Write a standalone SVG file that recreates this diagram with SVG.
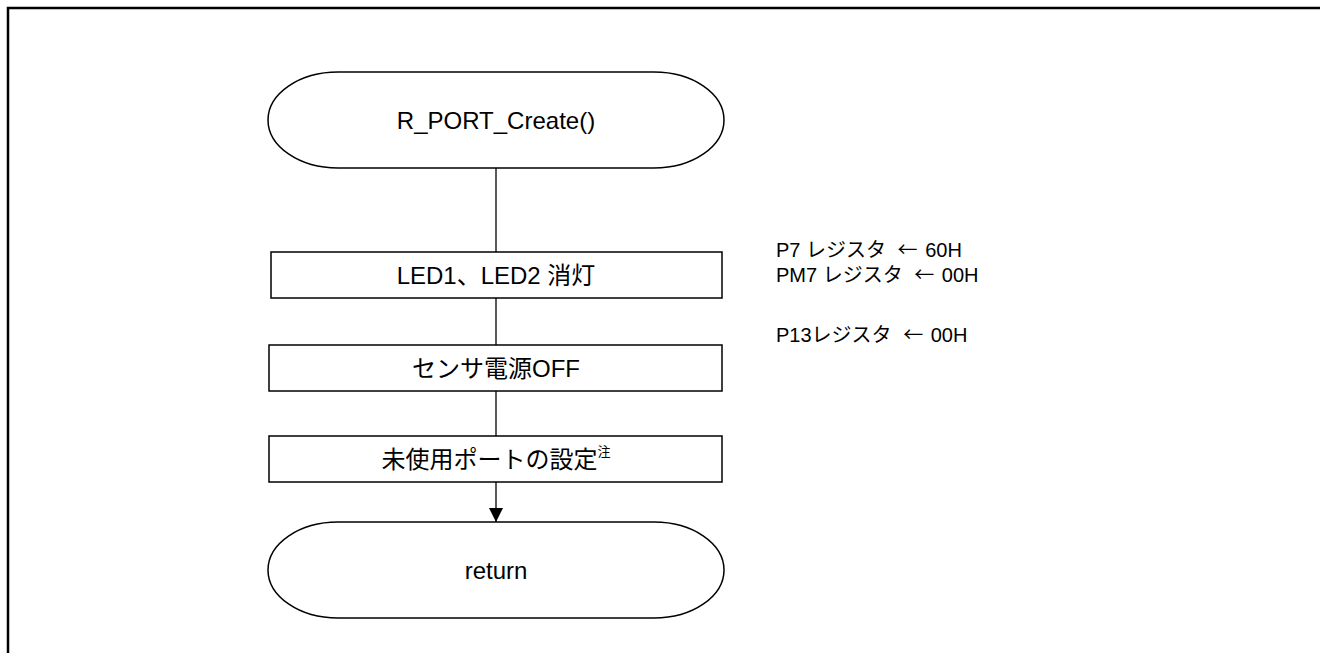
<svg xmlns="http://www.w3.org/2000/svg" width="1320" height="653" viewBox="0 0 1320 653">
<defs>
<style>
.frame{fill:none;stroke:#000;stroke-width:2.5}
.shape{fill:#fff;stroke:#000;stroke-width:1.5}
.line{fill:none;stroke:#000;stroke-width:1.3}
.t{font-family:"Liberation Sans","Noto Sans CJK JP",sans-serif;font-size:24px;fill:#000;text-anchor:middle;dominant-baseline:central}
.n{font-family:"Liberation Sans","Noto Sans CJK JP",sans-serif;font-size:20px;fill:#000}
.ar{font-family:"Noto Sans CJK JP",sans-serif}
.sup{font-size:13px}
</style>
<marker id="arr" markerWidth="14" markerHeight="14" refX="14" refY="7" orient="auto" markerUnits="userSpaceOnUse">
<path d="M0,0 L14,7 L0,14 z" fill="#000"/>
</marker>
</defs>
<rect width="1320" height="653" fill="#fff"/>
<rect class="frame" x="8" y="8" width="1330" height="660"/>
<g id="connectors">
<line class="line" x1="496" y1="168" x2="496" y2="252"/>
<line class="line" x1="496" y1="298" x2="496" y2="345"/>
<line class="line" x1="496" y1="391" x2="496" y2="436"/>
<line class="line" x1="496" y1="482" x2="496" y2="522" marker-end="url(#arr)"/>
</g>
<g id="start">
<rect class="shape" x="268" y="72" width="456" height="96" rx="70" ry="48"/>
<text class="t" x="496" y="120">R_PORT_Create()</text>
</g>
<g id="led_off">
<rect class="shape" x="271" y="252" width="451" height="46"/>
<text class="t" x="496" y="275">LED1、LED2 消灯</text>
</g>
<g id="sensor_off">
<rect class="shape" x="269" y="345" width="453" height="46"/>
<text class="t" x="496" y="368">センサ電源OFF</text>
</g>
<g id="unused_ports">
<rect class="shape" x="269" y="436" width="453" height="46"/>
<text class="t" x="496" y="459">未使用ポートの設定<tspan class="sup" dy="-8">注</tspan></text>
</g>
<g id="end">
<rect class="shape" x="268" y="522" width="456" height="96" rx="70" ry="48"/>
<text class="t" x="496" y="570">return</text>
</g>
<g id="notes">
<text class="n" x="776" y="257">P7 レジスタ <tspan class="ar" dx="6">←</tspan><tspan dx="2"> 60H</tspan></text>
<text class="n" x="776" y="282">PM7 レジスタ <tspan class="ar" dx="6">←</tspan><tspan dx="2"> 00H</tspan></text>
<text class="n" x="776" y="342">P13レジスタ <tspan class="ar" dx="6">←</tspan><tspan dx="2"> 00H</tspan></text>
</g>
</svg>
